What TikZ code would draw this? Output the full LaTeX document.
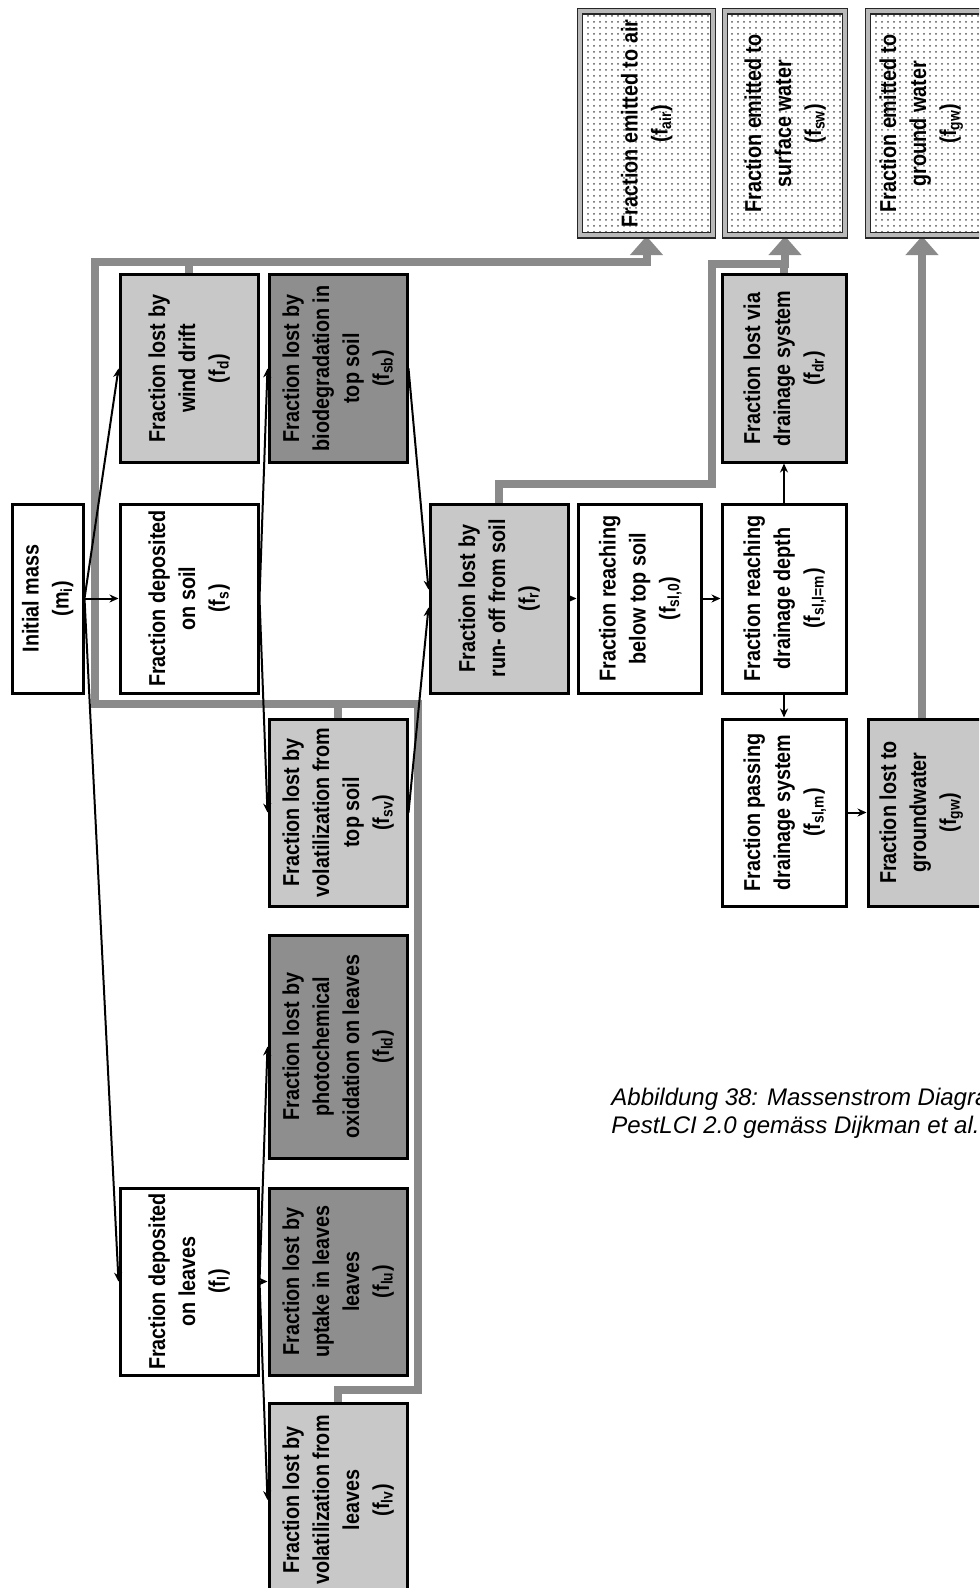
\documentclass[tikz,border=0pt]{standalone}
\usepackage{fontspec}
\setmainfont{Liberation Sans}
\newfontfamily\boxfont{Liberation Sans}[FakeStretch=0.86]
\usetikzlibrary{arrows.meta,patterns,backgrounds}

\definecolor{lightbox}{RGB}{200,200,200}
\definecolor{darkbox}{RGB}{142,142,142}
\definecolor{flowgray}{RGB}{138,138,138}

% text set upright along the long side of a box, reading bottom to top
\newcommand{\vtext}[1]{\rotatebox{90}{\begin{tabular}{@{}c@{}}#1\end{tabular}}}

\begin{document}
\begin{tikzpicture}[x=0.5pt,y=-0.5pt,
  box/.style={draw=black, line width=1.5pt, inner sep=0pt, anchor=center,
    font=\boxfont\bfseries\fontsize{11.5}{15}\selectfont},
  plainbox/.style={box, fill=white},
  lightbox/.style={box, fill=lightbox},
  darkbox/.style={box, fill=darkbox},
  emitbox/.style={box, draw=black!85, line width=0.6pt, double=gray!55,
    double distance=2pt, pattern=dots, pattern color=black!65},
  boxtext/.style={inner sep=0pt, anchor=center,
    font=\boxfont\bfseries\fontsize{11.5}{15}\selectfont},
  conn/.style={draw=black, line width=1pt, -{Stealth[length=4.5pt,width=4pt]}},
  flow/.style={draw=flowgray, line width=4pt, line join=miter},
  flowtip/.style={flow, -{Triangle[width=16pt,length=9.5pt]}}
]
\useasboundingbox (0,0) rectangle (979,1588);
\clip (0,0) rectangle (979,1588);

% ---------- start and first split ----------
\node[plainbox, minimum width=35.5pt, minimum height=94.5pt] (init) at (47.5,598.5)
  {\vtext{Initial mass\\(m\textsubscript{i})}};
\node[lightbox, minimum width=69pt, minimum height=93.5pt] (drift) at (189,368.5)
  {\vtext{Fraction lost by\\wind drift\\(f\textsubscript{d})}};
\node[plainbox, minimum width=69pt, minimum height=94.5pt] (soil) at (189,598.5)
  {\vtext{Fraction deposited\\on soil\\(f\textsubscript{s})}};
\node[plainbox, minimum width=69pt, minimum height=93.5pt] (leaves) at (189,1281.5)
  {\vtext{Fraction deposited\\on leaves\\(f\textsubscript{l})}};

% ---------- losses from soil and leaves ----------
\node[darkbox, minimum width=69pt, minimum height=93.5pt] (biod) at (338,368.5)
  {\vtext{Fraction lost by\\biodegradation in\\top soil\\(f\textsubscript{sb})}};
\node[lightbox, minimum width=69pt, minimum height=93.5pt] (vsoil) at (338,812.5)
  {\vtext{Fraction lost by\\volatilization from\\top soil\\(f\textsubscript{sv})}};
\node[darkbox, minimum width=69pt, minimum height=111.5pt] (oxid) at (338,1046.5)
  {\vtext{Fraction lost by\\photochemical\\oxidation on leaves\\(f\textsubscript{ld})}};
\node[darkbox, minimum width=69pt, minimum height=93.5pt] (uptake) at (338,1281.5)
  {\vtext{Fraction lost by\\uptake in leaves\\leaves\\(f\textsubscript{lu})}};
\node[lightbox, minimum width=69pt, minimum height=97pt] (vleaves) at (338,1500)
  {\vtext{Fraction lost by\\volatilization from\\leaves\\(f\textsubscript{lv})}};

% ---------- soil column ----------
\node[lightbox, minimum width=69pt, minimum height=94.5pt] (runoff) at (499,598.5)
  {\vtext{Fraction lost by\\run- off from soil\\(f\textsubscript{r})}};
\node[plainbox, minimum width=61.5pt, minimum height=94.5pt] (below) at (639.5,598.5)
  {\vtext{Fraction reaching\\below top soil\\(f\textsubscript{sl,0})}};
\node[plainbox, minimum width=62pt, minimum height=94.5pt] (depth) at (784,598.5)
  {\vtext{Fraction reaching\\drainage depth\\(f\textsubscript{sl,l=m})}};
\node[lightbox, minimum width=62pt, minimum height=93.5pt] (drain) at (784,368.5)
  {\vtext{Fraction lost via\\drainage system\\(f\textsubscript{dr})}};
\node[plainbox, minimum width=62pt, minimum height=93.5pt] (passing) at (784,812.5)
  {\vtext{Fraction passing\\drainage system\\(f\textsubscript{sl,m})}};
% the groundwater column runs on past the right edge
\node[lightbox, minimum width=62pt, minimum height=93.5pt] (gwlost) at (930,812.5) {};
\node[boxtext] (gwlosttext) at (920,812.5)
  {\vtext{Fraction lost to\\groundwater\\(f\textsubscript{gw})}};

% ---------- emission compartments ----------
\node[emitbox, minimum width=66.5pt, minimum height=112pt] (air) at (646.5,123.5)
  {\vtext{Fraction emitted to air\\(f\textsubscript{air})}};
\node[emitbox, minimum width=60pt, minimum height=112pt] (surf) at (785,123.5)
  {\vtext{Fraction emitted to\\surface water\\(f\textsubscript{sw})}};
\node[emitbox, minimum width=62pt, minimum height=112pt] (gwem) at (930,123.5) {};
\node[boxtext] (gwemtext) at (920,123.5)
  {\vtext{Fraction emitted to\\ground water\\(f\textsubscript{gw})}};

% ---------- mass transfer between boxes ----------
\draw[conn] (init.east) -- (soil.west);
\draw[conn] (init.east) -- (drift.west);
\draw[conn] (init.east) -- (leaves.west);
\draw[conn] (soil.east) -- (biod.west);
\draw[conn] (soil.east) -- (vsoil.west);
\draw[conn] (leaves.east) -- (uptake.west);
\draw[conn] (leaves.east) -- (oxid.west);
\draw[conn] (leaves.east) -- (vleaves.west);
\draw[conn] (biod.east) -- ([yshift=4.5pt]runoff.west);
\draw[conn] (vsoil.east) -- ([yshift=-4.5pt]runoff.west);
\draw[conn] (runoff) -- (below);
\draw[conn] (below) -- (depth);
\draw[conn] (depth) -- (drain);
\draw[conn] (depth) -- (passing);
\draw[conn] (passing) -- (gwlost.west |- passing);

% ---------- emission flows ----------
\coordinate (c1) at (95,262);
\coordinate (c2) at (95,704);
\coordinate (c3) at (418,704);
\coordinate (c4) at (418,1390);
\coordinate (c5) at (338,1390);
\coordinate (d1) at (712,484);
\coordinate (d2) at (712,264);
\coordinate (g1) at (922,0);
\begin{scope}[on background layer]
  \fill[white] (0,0) rectangle (979,1588);
  \draw[flowtip] (vleaves.north) -- (c5) -- (c4) -- (c3) -- (c2) -- (c1)
    -- (air.south |- c1) -- (air.south);
  \draw[flow] (drift.north) -- (drift.north |- c1);
  \draw[flow] (vsoil.north) -- (vsoil.north |- c2);
  \draw[flowtip] (runoff.north) -- (runoff.north |- d1) -- (d1) -- (d2)
    -- (surf.south |- d2) -- (surf.south);
  \draw[flow] (drain.north) -- (drain.north |- d2);
  \draw[flowtip] (gwlost.north -| g1) -- (gwem.south -| g1);
\end{scope}

% ---------- caption ----------
\node[anchor=base west, inner sep=0pt, font=\itshape\fontsize{12}{14}\selectfont]
  (cap1) at (611,1105) {Abbildung 38: Massenstrom Diagra};
\node[anchor=base west, inner sep=0pt, font=\itshape\fontsize{12}{14}\selectfont]
  (cap2) at (611,1133) {PestLCI 2.0 gemäss Dijkman et al.};
\end{tikzpicture}
\end{document}
